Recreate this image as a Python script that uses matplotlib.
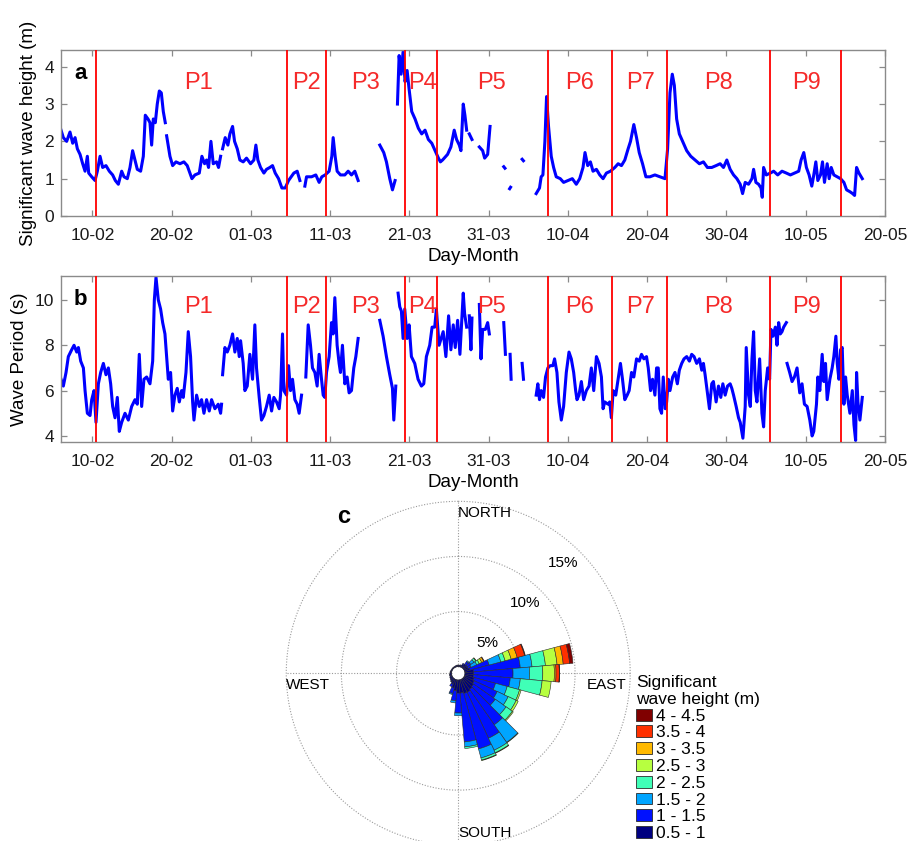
import matplotlib
matplotlib.use("Agg")
import matplotlib.pyplot as plt
import matplotlib.dates as mdates
from matplotlib.patches import Patch
import numpy as np
import pandas as pd

plt.rcParams["font.family"] = ["Liberation Sans", "DejaVu Sans"]

nan = np.nan
T0 = pd.Timestamp("2016-02-10")      # дни отсчитываются от 10-02

# --- (a) значительная высота волны, м; nan = пропуск данных
hs_day = [-3.95, -3.66, -3.24, -2.82, -2.48, -2.18, -1.89, -1.55, -1.22, -0.92, -0.63, -0.46, -0.08, 0.34, 0.63,
          0.97, 1.30, 1.72, 2.14, 2.56, 2.90, 3.28, 3.70, 3.99, 4.41, 4.75, 5.08, 5.38, 5.67, 6.09, 6.43, 6.68,
          7.02, 7.27, 7.48, 7.69, 7.94, 8.19, 8.45, 8.70, 8.95, 9.20, nan,
          9.37, 9.79, 10.13, 10.55, 11.05, 11.55, 11.97, 12.31, 12.56, 12.94, 13.49, 13.82, 14.16, 14.41, 14.66,
          14.96, 15.25, 15.67, 15.92, 16.18, nan,
          16.43, 16.76, 17.10, 17.35, 17.69, 17.94, 18.28, 18.61, 19.03, 19.45, 19.96, 20.38, 20.63, 20.88, 21.22,
          21.64, 21.97, 22.39, 22.73, 23.07, 23.49, 23.91, 24.33, 24.75, 25.08, 25.42, 25.84, 26.18, nan,
          26.81, 27.02, 27.65, 28.19, 28.61, 28.95, 29.37, 29.87, 30.21, 30.38, 30.63, 30.88, 31.30, 31.85, 32.27,
          32.69, 33.11, 33.53, nan,
          36.26, 36.76, 37.10, 37.52, 37.86, 38.19, nan,
          38.49, 38.70, 38.95, 39.20, 39.45, 39.71, 39.96, 40.29, 40.71, 41.13, 41.55, 41.97, 42.39, 42.82, 43.24,
          43.66, 43.91, 44.18, 44.81, 45.23, 45.65, 45.95, 46.29, 46.50, 46.79, 47.00, 47.22, nan,
          47.55, 47.89, nan,
          48.82, 49.24, 49.49, 49.87, 50.17, nan,
          51.90, 52.05, nan, 52.64, 52.76, nan, 54.22, 54.38, nan,
          55.99, 56.41, 56.62, 56.84, 57.09, 57.30, 57.55, 57.89, 58.19, 58.52, 59.03, 59.45, 60.00, 60.55, 61.05,
          61.48, 61.90, 62.15, 62.49, 62.83, 63.16, 63.59, 64.01, 64.43, 64.85, 65.36, 65.91, 66.33, 66.75, 67.17,
          67.59, 67.89, 68.31, 68.65, 68.99, 69.41, 69.83, 70.34, 70.97, 71.60, 72.24, 72.57, 72.87, 73.16, 73.42,
          73.71, 74.05, 74.47, 74.98, 75.49, 76.03, 76.58, 77.09, 77.59, 78.14, 78.69, 79.20, 79.62, 80.04, 80.46,
          80.89, 81.31, 81.73, 82.03, 82.36, 82.78, 83.21, 83.42, 83.71, 84.05, 84.35, 84.51, 84.68, 85.02, 85.53,
          85.95, 86.46, 87.00, 87.55, 88.06, 88.57, 89.11, 89.41, 89.75, 90.08, 90.42, 90.76, 91.01, 91.27, 91.52,
          91.86, 92.11, 92.36, 92.70, 92.95, 93.21, 93.54, 93.97, 94.39, 94.81, 95.15, 95.57, 95.91, 96.16, 96.41,
          96.71, 97.13]
hs_m = [2.3, 2.1, 2.0, 2.25, 1.95, 2.1, 1.8, 1.65, 1.4, 1.2, 1.6, 1.15, 1.05, 0.95, 1.2,
        1.6, 1.3, 1.35, 1.2, 1.1, 0.95, 0.85, 1.2, 1.05, 1.0, 1.3, 1.75, 1.5, 1.25, 1.2, 1.6, 2.7,
        2.6, 2.5, 1.9, 2.6, 2.5, 3.0, 3.35, 3.3, 2.8, 2.5, nan,
        2.15, 1.6, 1.35, 1.45, 1.4, 1.45, 1.35, 1.15, 1.0, 1.1, 1.15, 1.6, 1.4, 1.5, 1.3,
        2.0, 1.4, 1.45, 1.3, 1.6, nan,
        1.8, 2.1, 1.9, 2.2, 2.4, 2.0, 1.8, 1.5, 1.45, 1.55, 1.4, 1.5, 1.9, 1.5, 1.3,
        1.15, 1.25, 1.3, 1.35, 1.15, 1.0, 0.75, 0.75, 0.95, 1.05, 1.15, 1.2, 0.95, nan,
        0.8, 1.05, 1.05, 1.1, 0.9, 1.05, 1.1, 1.2, 1.6, 2.1, 1.6, 1.2, 1.1, 1.1, 1.2,
        1.1, 1.2, 0.95, nan,
        1.9, 1.7, 1.45, 1.0, 0.7, 0.95, nan,
        3.0, 4.3, 3.8, 4.4, 3.6, 3.9, 3.4, 2.8, 2.6, 2.35, 2.2, 2.3, 2.05, 1.95, 1.75,
        1.55, 1.45, 1.5, 1.65, 1.85, 2.3, 2.05, 1.9, 1.75, 3.0, 2.7, 2.3, nan,
        2.2, 2.05, nan,
        1.85, 1.75, 1.55, 1.65, 2.4, nan,
        1.32, 1.28, nan, 0.73, 0.77, nan, 1.52, 1.48, nan,
        0.6, 0.75, 1.05, 1.1, 2.0, 3.2, 2.4, 1.6, 1.3, 1.05, 1.0, 0.9, 0.95, 1.0, 0.85,
        1.0, 1.3, 1.7, 1.35, 1.45, 1.2, 1.25, 1.1, 1.0, 1.15, 1.2, 1.3, 1.4, 1.35, 1.5,
        1.8, 2.0, 2.45, 2.1, 1.7, 1.4, 1.05, 1.05, 1.1, 1.05, 1.0, 1.8, 3.3, 3.8, 3.5,
        2.6, 2.2, 2.0, 1.75, 1.6, 1.5, 1.4, 1.45, 1.3, 1.3, 1.35, 1.4, 1.3, 1.5, 1.25,
        1.1, 1.0, 0.85, 0.6, 0.9, 0.85, 1.0, 1.25, 0.9, 0.85, 0.75, 0.5, 1.3, 1.1, 1.15,
        1.2, 1.1, 1.2, 1.15, 1.1, 1.15, 1.2, 1.5, 1.7, 1.3, 1.1, 0.8, 1.1, 1.45, 0.95,
        1.1, 1.45, 0.9, 1.4, 1.0, 1.3, 1.1, 1.05, 1.0, 0.9, 0.7, 0.65, 0.6, 0.55, 1.3,
        1.15, 1.0]

# --- (b) период волны, с
tp_day = [-3.95, -3.66, -3.32, -3.03, -2.61, -2.31, -1.97, -1.76, -1.47, -1.13, -0.92, -0.63, -0.29, -0.08, 0.21,
          0.46, 0.76, 1.05, 1.39, 1.72, 2.02, 2.31, 2.56, 2.86, 3.15, 3.40, 3.70, 4.12, 4.54, 4.96,
          5.38, 5.67, 5.92, 6.22, 6.51, 6.85, 7.27, 7.61, 7.82, 8.03, 8.32, 8.61, 8.87, 9.16, 9.37,
          9.58, 9.87, 10.13, 10.42, 10.71, 10.97, 11.26, 11.47, 11.81, 12.10, 12.39, 12.65, 12.82, 13.15, 13.49,
          13.78, 14.08, 14.41, 14.75, 15.04, 15.46, 15.88, 16.18, 16.30, nan,
          16.43, 16.72, 17.02, 17.35, 17.69, 17.98, 18.28, 18.53, 18.70, 19.03, 19.24, 19.54, 19.87, 20.21, 20.50,
          20.71, 21.05, 21.34, 21.64, 21.97, 22.31, 22.61, 22.90, 23.24, 23.57, 23.74, 23.99, 24.16, 24.50, 24.75,
          25.00, 25.25, 25.55, 25.84, 26.09, 26.39, nan,
          26.93, 27.23, 27.52, 27.77, 28.07, 28.36, 28.61, 28.91, 29.12, 29.33, 29.54, 29.87, 30.17, 30.38, 30.59,
          30.88, 31.13, 31.30, 31.55, 31.85, 32.14, 32.39, 32.69, 32.98, 33.24, 33.53, nan,
          36.26, 36.68, 37.10, 37.52, 37.86, 38.03, 38.28, nan,
          38.57, 38.78, 38.99, 39.20, 39.41, 39.71, 39.96, 40.25, 40.67, 41.09, 41.51, 41.81, 42.14, 42.56, 42.86,
          43.19, 43.40, 43.74, 44.26, 44.60, 44.94, 45.23, 45.53, 45.78, 46.08, 46.37, 46.62, 46.79, 46.96, 47.22, nan,
          47.55, 47.76, 47.89, nan,
          48.82, 49.03, 49.24, 49.58, 49.87, 50.08, nan,
          51.90, 52.11, nan, 52.70, 52.83, nan, 54.22, 54.39, nan,
          55.99, 56.20, 56.41, 56.62, 56.92, 57.17, 57.47, 57.76, 58.10, 58.31, 58.61, 58.86, 59.16, 59.45, 59.79,
          60.13, 60.42, 60.72, 60.97, 61.14, 61.39, 61.69, 61.98, 62.32, 62.66, 62.95, 63.25, 63.59, 63.92, 64.22,
          64.43, 64.64, 65.06, 65.27, 65.48, 65.70, 66.03, 66.33, 66.62, 66.88, 67.17, 67.47, 67.72, 68.02, 68.31,
          68.65, 68.99, 69.28, 69.58, 69.91, 70.13, 70.42, 70.67, 70.97, 71.18, 71.39, 71.60, 71.81, 72.02, 72.28,
          72.45, 72.66, 72.87, 73.21, 73.50, 73.80, 74.05, 74.35, 74.64, 74.98, 75.32, 75.61, 75.91, 76.24, 76.58,
          76.88, 77.09, 77.30, 77.60, 77.85, 78.14, 78.35, 78.69, 78.99, 79.28, 79.54, 79.83, 80.13, 80.46, 80.67,
          80.89, 81.22, 81.52, 81.73, 82.07, 82.36, 82.49, 82.78, 83.00, 83.21, 83.42, 83.63, 83.84, 84.18, 84.47,
          84.68, 84.89, 85.19, 85.44, 85.61, 85.86, 86.16, 86.37, 86.58, 86.79, 87.00, 87.21, 87.55, nan,
          87.64, 87.97, 88.27, 88.57, 88.90, 89.24, 89.53, 89.83, 90.17, 90.51, 90.80, 91.01, 91.35, 91.52, 91.77,
          92.07, 92.28, 92.49, 92.70, 93.04, 93.33, 93.54, 93.80, 93.97, 94.18, 94.39, 94.60, 94.81, 95.02, 95.23,
          95.57, 95.87, 96.08, 96.29, 96.41, 96.58, 96.83, 97.13]
tp_s = [6.5, 6.2, 6.8, 7.5, 7.8, 8.0, 7.7, 7.9, 7.3, 7.0, 6.0, 5.0, 4.9, 5.6, 6.0,
        4.6, 6.3, 6.8, 7.2, 6.7, 7.0, 6.3, 5.3, 4.8, 5.7, 4.2, 4.6, 5.0, 4.7, 5.3,
        5.6, 5.4, 7.6, 5.3, 6.5, 6.6, 6.3, 7.3, 10.0, 11.0, 10.0, 9.6, 9.0, 8.5, 7.5,
        6.5, 6.8, 5.1, 5.8, 6.1, 5.5, 6.0, 5.7, 6.8, 8.6, 7.5, 5.5, 4.7, 5.8, 5.3,
        5.6, 5.0, 5.6, 5.1, 5.6, 5.2, 5.4, 5.0, 5.4, nan,
        6.7, 7.9, 7.7, 8.0, 8.5, 7.7, 8.3, 7.5, 8.2, 7.2, 6.0, 6.2, 7.6, 6.5, 8.9,
        7.0, 5.7, 4.7, 4.9, 5.3, 5.8, 5.1, 5.7, 5.5, 5.2, 5.8, 8.5, 6.0, 5.8, 7.1,
        6.0, 6.5, 5.6, 5.4, 5.0, 5.8, nan,
        6.6, 8.9, 8.0, 7.0, 6.8, 6.2, 7.6, 6.5, 5.8, 5.7, 6.8, 7.5, 9.0, 8.5, 10.1,
        8.0, 7.2, 6.8, 8.0, 6.3, 6.6, 5.9, 6.0, 7.0, 7.5, 8.3, nan,
        9.1, 8.4, 7.5, 6.7, 6.1, 4.7, 6.2, nan,
        10.3, 9.7, 9.5, 8.3, 9.6, 8.3, 8.9, 7.5, 7.2, 6.5, 6.2, 6.3, 7.5, 8.0, 8.8,
        8.8, 9.6, 8.0, 8.6, 7.5, 9.3, 7.8, 8.9, 7.9, 9.1, 7.6, 9.2, 10.3, 9.4, 8.8, nan,
        9.3, 7.8, 9.2, nan,
        9.8, 7.4, 8.7, 8.7, 9.0, 8.5, nan,
        9.0, 7.6, nan, 7.6, 6.5, nan, 7.2, 6.5, nan,
        5.8, 6.3, 5.6, 6.0, 5.7, 6.6, 7.0, 7.1, 7.1, 7.4, 6.8, 5.5, 4.7, 5.3, 6.8,
        7.7, 7.4, 6.8, 6.0, 5.6, 5.8, 6.4, 5.6, 6.0, 6.2, 7.0, 6.0, 7.5, 7.2, 6.6,
        5.2, 5.5, 5.4, 5.5, 4.8, 6.0, 5.8, 6.5, 7.2, 6.5, 5.6, 5.8, 6.0, 6.8, 6.6,
        7.4, 7.3, 7.6, 7.4, 7.5, 7.0, 6.0, 6.5, 5.8, 7.0, 7.0, 5.2, 5.0, 6.6, 5.2,
        5.5, 6.5, 6.0, 6.6, 6.8, 6.3, 6.9, 7.2, 7.4, 7.5, 7.3, 7.6, 7.5, 7.2, 7.4,
        6.9, 7.2, 6.7, 5.9, 5.2, 6.3, 6.4, 5.5, 6.2, 5.7, 6.3, 5.8, 6.2, 6.3, 6.1,
        5.8, 5.3, 4.8, 4.6, 3.9, 5.3, 7.9, 5.8, 5.3, 7.4, 8.6, 6.0, 5.5, 7.4, 5.0,
        4.4, 6.0, 7.0, 6.5, 8.7, 8.4, 8.8, 8.0, 9.0, 8.5, 8.6, 8.8, 9.0, nan,
        7.2, 6.8, 6.4, 6.6, 7.0, 5.9, 6.3, 5.4, 5.3, 4.7, 4.0, 4.2, 5.4, 6.6, 6.0,
        7.6, 6.4, 7.2, 5.6, 6.5, 7.0, 7.5, 8.4, 7.2, 6.5, 7.8, 7.9, 5.4, 6.6, 5.8,
        5.0, 6.0, 4.5, 3.8, 6.8, 5.5, 4.7, 5.7]

# границы периодов P1..P9 (дни от 10-02) и положения подписей
period_edges = [0.5, 24.5, 29.5, 39.5, 43.5, 57.5, 65.5, 72.5, 85.5, 94.5]
period_names = ["P1", "P2", "P3", "P4", "P5", "P6", "P7", "P8", "P9"]
period_label_day = [13.4, 27.0, 34.5, 41.6, 50.3, 61.5, 69.2, 79.0, 90.1]

# --- (c) роза волнения: повторяемость (%) по румбам 0..350 через 10 град
rose_dir = [0, 10, 20, 30, 40, 50, 60, 70, 80, 90, 100, 110, 120, 130, 140, 150, 160, 170,
            180, 190, 200, 210, 220, 230, 240, 250, 260, 270, 280, 290, 300, 310, 320, 330, 340, 350]
hs_classes = ["0.5 - 1", "1 - 1.5", "1.5 - 2", "2 - 2.5", "2.5 - 3", "3 - 3.5", "3.5 - 4", "4 - 4.5"]
rose_05_1 = [0.15, 0.15, 0.2, 0.3, 0.4, 0.4, 0.4, 0.5, 0.8, 0.8, 0.8, 0.9, 1.0, 1.1, 1.2, 1.3, 1.3, 1.2,
             1.2, 1.0, 0.8, 0.5, 0.35, 0.3, 0.25, 0.2, 0.2, 0.15, 0.15, 0.12, 0.1, 0.1, 0.1, 0.1, 0.12, 0.15]
rose_1_15 = [0, 0, 0, 0.1, 0.3, 0.4, 0.3, 1.8, 4.25, 3.57, 3.34, 2.0, 2.3, 2.4, 3.9, 4.6, 5.2, 4.45,
             1.8, 0.9, 0.5, 0.25, 0.05, 0, 0, 0, 0, 0, 0, 0, 0, 0, 0, 0, 0, 0]
rose_15_2 = [0, 0, 0, 0, 0.1, 0.35, 0.55, 1.1, 1.07, 1.5, 0.91, 1.1, 1.1, 1.2, 1.95, 1.2, 0.85, 0.45,
             0.25, 0.2, 0.1, 0, 0, 0, 0, 0, 0, 0, 0, 0, 0, 0, 0, 0, 0, 0]
rose_2_25 = [0, 0, 0, 0, 0, 0.2, 0.25, 0.4, 1.22, 1.2, 1.99, 1.16, 0.8, 0.7, 0.05, 0.25, 0.2, 0.15,
             0, 0, 0, 0, 0, 0, 0, 0, 0, 0, 0, 0, 0, 0, 0, 0, 0, 0]
rose_25_3 = [0, 0, 0, 0, 0, 0.05, 0.25, 0.57, 1.06, 1.05, 0.82, 0.14, 0.2, 0.1, 0, 0.05, 0.05, 0,
             0, 0, 0, 0, 0, 0, 0, 0, 0, 0, 0, 0, 0, 0, 0, 0, 0, 0]
rose_3_35 = [0, 0, 0, 0, 0, 0, 0.2, 0.57, 0.56, 0.15, 0, 0, 0, 0, 0, 0, 0, 0,
             0, 0, 0, 0, 0, 0, 0, 0, 0, 0, 0, 0, 0, 0, 0, 0, 0, 0]
rose_35_4 = [0, 0, 0, 0, 0, 0, 0.05, 0.7, 0.58, 0.3, 0, 0, 0, 0, 0, 0, 0, 0,
             0, 0, 0, 0, 0, 0, 0, 0, 0, 0, 0, 0, 0, 0, 0, 0, 0, 0]
rose_4_45 = [0, 0, 0, 0, 0, 0, 0, 0.06, 0.31, 0.03, 0, 0, 0, 0, 0, 0, 0, 0,
             0, 0, 0, 0, 0, 0, 0, 0, 0, 0, 0, 0, 0, 0, 0, 0, 0, 0]
rose_levels = [5, 10, 15]

GREY = "#8a8a8a"
BLUE = "#0000ff"
RED = "#ff0000"


def to_num(days):
    return mdates.date2num(T0.to_pydatetime()) + np.asarray(days, dtype=float)


def time_panel(ax, day, val, ylim, yticks, ylabel, letter, label_y):
    ax.plot(to_num(day), val, color=BLUE, lw=2.2, solid_joinstyle="round", zorder=2)
    for d in period_edges:
        ax.axvline(to_num(d), color=RED, lw=1.3, zorder=3)
    for name, d in zip(period_names, period_label_day):
        ax.text(to_num(d), label_y, name, color="#f52a2a", fontsize=17, ha="center", va="center")
    ax.set_xlim(to_num(-3.95), to_num(100))
    ax.set_ylim(*ylim)
    ax.set_yticks(yticks)
    ticks = pd.date_range("2016-02-10", "2016-05-20", freq="10D")
    ax.set_xticks(mdates.date2num(ticks.to_pydatetime()))
    ax.xaxis.set_major_formatter(mdates.DateFormatter("%d-%m"))
    ax.tick_params(direction="in", top=True, right=True, length=4.5, width=0.9, color=GREY,
                   labelsize=12.5, labelcolor="#1a1a1a")
    ax.tick_params(axis="x", pad=8.5)
    ax.tick_params(axis="y", pad=5)
    for s in ax.spines.values():
        s.set_color(GREY)
        s.set_linewidth(1.0)
    ax.set_xlabel("Day-Month", fontsize=13.5, labelpad=3.5)
    ax.set_ylabel(ylabel, fontsize=13.5, labelpad=5)
    ax.text(0.0237, 0.86, letter, transform=ax.transAxes, fontsize=16, fontweight="bold",
            ha="center", va="center")


fig = plt.figure(figsize=(9.11, 8.41), dpi=100)

ax_a = fig.add_axes([0.067, 0.7432, 0.9045, 0.1974])
time_panel(ax_a, hs_day, hs_m, (0, 4.45), [0, 1, 2, 3, 4], "Significant wave height (m)", "a", 3.56)

ax_b = fig.add_axes([0.067, 0.4741, 0.9045, 0.1981])
time_panel(ax_b, tp_day, tp_s, (3.72, 11.07), [4, 6, 8, 10], "Wave Period (s)", "b", 9.7)

# --- роза
R0 = 0.6       # пустой центр
RMAX = 15.6
axc = fig.add_axes([0.3124, -0.0071, 0.3812, 0.4130], projection="polar")
axc.set_theta_zero_location("N")
axc.set_theta_direction(-1)
axc.set_ylim(0, 15.75)
axc.set_xticks([])
axc.set_yticks([])
axc.grid(False)
axc.spines["polar"].set_visible(False)

tt = np.linspace(0, 2 * np.pi, 721)
for lev in rose_levels:
    axc.plot(tt, np.full_like(tt, R0 + lev), ls=(0, (1, 1.5)), color="#9a9a9a", lw=0.8, zorder=0.5)
for a in [0, 90, 180, 270]:
    axc.plot([np.deg2rad(a)] * 2, [R0, RMAX], ls=(0, (1, 1.5)), color="#9a9a9a", lw=0.8, zorder=0.5)

rose_cols = plt.cm.jet(np.linspace(0, 1, len(hs_classes)))
rose_tab = [rose_05_1, rose_1_15, rose_15_2, rose_2_25, rose_25_3, rose_3_35, rose_35_4, rose_4_45]
theta = np.deg2rad(rose_dir)
base = np.full(len(rose_dir), R0)
for vals, col in zip(rose_tab, rose_cols):
    vals = np.asarray(vals, dtype=float)
    m = vals > 0
    axc.bar(theta[m], vals[m], width=np.deg2rad(10), bottom=base[m], color=col,
            edgecolor="#2b2b2b", linewidth=0.4, zorder=2)
    base = base + vals

for lev in rose_levels:
    axc.text(np.deg2rad(43.5), R0 + lev - 1.8, f"{lev}%", fontsize=11, ha="center", va="center")
axc.text(0, 14.5, "NORTH", fontsize=11, ha="left", va="center")
axc.text(np.pi, 14.5, "SOUTH", fontsize=11, ha="left", va="center")
axc.text(np.deg2rad(268.5), RMAX, "WEST", fontsize=11, ha="left", va="top")
axc.text(np.deg2rad(91.5), RMAX - 0.3, "EAST", fontsize=11, ha="right", va="top")
fig.text(344 / 911, 1 - 516.5 / 841, "c", fontsize=17, fontweight="bold", ha="center", va="center")

handles = [Patch(facecolor=c, edgecolor="#2b2b2b", linewidth=0.6) for c in rose_cols][::-1]
fig.legend(handles, hs_classes[::-1], loc="upper left", bbox_to_anchor=(636 / 911, 1 - 674.5 / 841),
           frameon=False, title="Significant\nwave height (m)", alignment="left",
           fontsize=12.5, title_fontsize=12.5, handlelength=0.92, handleheight=0.68,
           handletextpad=0.25, labelspacing=0.1, borderpad=0, borderaxespad=0)

fig.savefig("out.png", dpi=100)
